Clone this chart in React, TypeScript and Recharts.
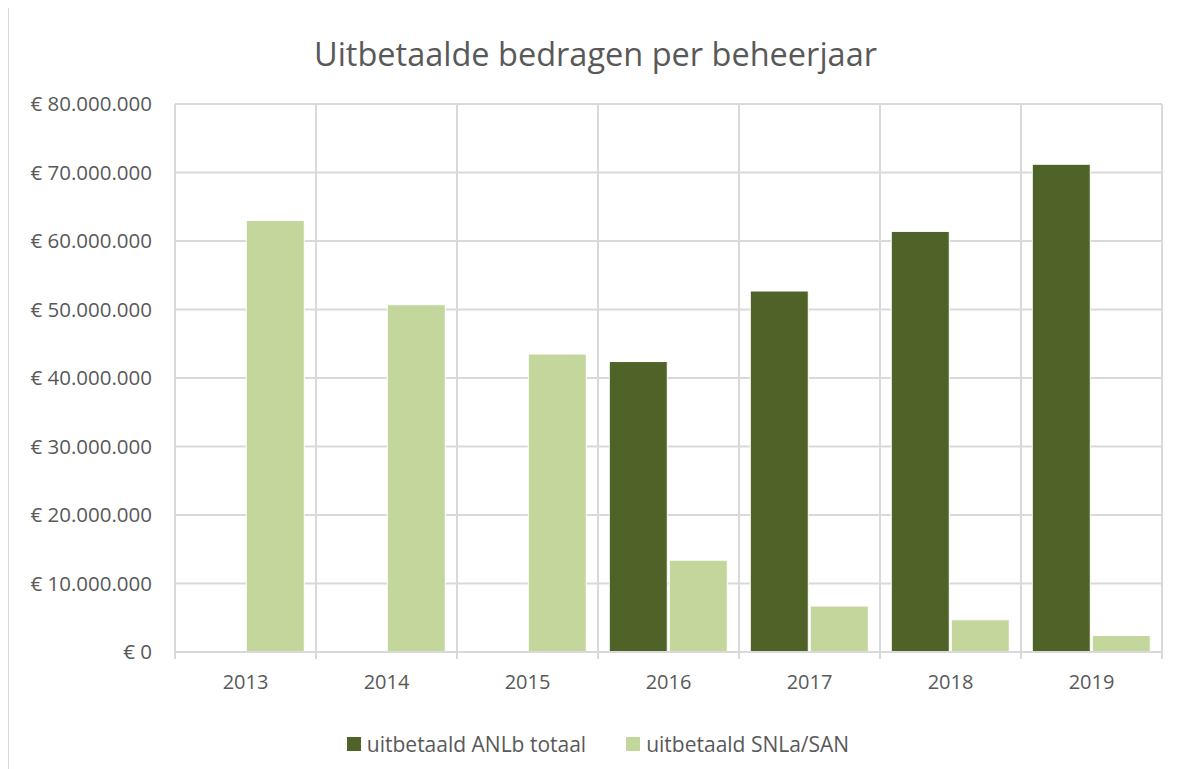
import { BarChart, Bar, XAxis, YAxis, CartesianGrid, Legend } from 'recharts'

const YEARS = ['2013', '2014', '2015', '2016', '2017', '2018', '2019']
const ANLB = [null, null, null, 42.4, 52.7, 61.4, 71.2]
const SNLA = [63.0, 50.7, 43.5, 13.4, 6.7, 4.7, 2.4]
const Y_TICKS = [0, 10, 20, 30, 40, 50, 60, 70, 80]

const SERIES = [
  { key: 'anlb', label: 'uitbetaald ANLb totaal', color: '#4f6228' },
  { key: 'snla', label: 'uitbetaald SNLa/SAN', color: '#c3d69b' },
]

const W = 1175
const H = 761
const M = { top: 96, right: 21, left: 0, bottom: 10 }
const Y_W = 167
const PLOT_W = W - M.left - M.right - Y_W
const BAND = PLOT_W / YEARS.length
const FONT = '"Open Sans", sans-serif'
const TEXT = '#595959'
const GRID = '#d9d9d9'

const data = YEARS.map((y, i) => ({
  year: y,
  anlb: ANLB[i] == null ? null : ANLB[i]! * 1e6,
  snla: SNLA[i] * 1e6,
}))

const euro = (v: number) =>
  v === 0 ? '€ 0' : '€ ' + Math.round(v).toString().replace(/\B(?=(\d{3})+(?!\d))/g, '.')

function XTick({ x, y, payload, index }: any) {
  const axisY = y - 23
  return (
    <g>
      <line x1={x - BAND / 2} x2={x - BAND / 2} y1={axisY} y2={axisY + 7} stroke={GRID} strokeWidth={2} />
      {index === YEARS.length - 1 && (
        <line x1={x + BAND / 2} x2={x + BAND / 2} y1={axisY} y2={axisY + 7} stroke={GRID} strokeWidth={2} />
      )}
      <text x={x} y={y} dy="0.71em" textAnchor="middle" fill={TEXT} fontSize={20} fontFamily={FONT}>
        {payload.value}
      </text>
    </g>
  )
}

function LegendBox() {
  return (
    <div
      style={{
        height: 57,
        boxSizing: 'border-box',
        paddingTop: 27,
        paddingLeft: 26,
        display: 'flex',
        justifyContent: 'center',
        alignItems: 'center',
        gap: 40,
        fontFamily: FONT,
        fontSize: 21,
        color: TEXT,
      }}
    >
      {SERIES.map((s) => (
        <div key={s.key} style={{ display: 'flex', alignItems: 'center', gap: 6, height: 30 }}>
          <span style={{ width: 14, height: 14, background: s.color, display: 'inline-block' }} />
          <span>{s.label}</span>
        </div>
      ))}
    </div>
  )
}

export default function App() {
  return (
    <div style={{ position: 'relative', width: W, height: H }}>
      <div
        style={{
          position: 'absolute',
          left: -1,
          top: -3,
          width: W + 10,
          height: H + 10,
          borderTop: `2px solid ${GRID}`,
          borderLeft: `2px solid ${GRID}`,
          pointerEvents: 'none',
        }}
      />
      <div
        style={{
          position: 'absolute',
          top: 23,
          left: 0,
          width: W,
          textAlign: 'center',
          fontFamily: FONT,
          fontSize: 32.5,
          color: TEXT,
        }}
      >
        Uitbetaalde bedragen per beheerjaar
      </div>
      <BarChart width={W} height={H} data={data} margin={M} barCategoryGap="8%" barGap={2}>
        <CartesianGrid
          stroke={GRID}
          strokeWidth={2}
          verticalCoordinatesGenerator={({ offset }: any) =>
            YEARS.map((_, i) => offset.left + i * (offset.width / YEARS.length)).concat(offset.left + offset.width)
          }
        />
        <XAxis
          dataKey="year"
          axisLine={{ stroke: GRID, strokeWidth: 2 }}
          tickLine={false}
          tickSize={0}
          tickMargin={23}
          height={50}
          tick={<XTick />}
          interval={0}
        />
        <YAxis
          width={Y_W}
          domain={[0, 80e6]}
          ticks={Y_TICKS.map((t) => t * 1e6)}
          tickFormatter={euro}
          axisLine={false}
          tickLine={false}
          tickSize={0}
          tickMargin={23}
          tick={{ fill: TEXT, fontSize: 20.5, fontFamily: FONT }}
        />
        {SERIES.map((s) => (
          <Bar key={s.key} dataKey={s.key} name={s.label} fill={s.color} stroke="#fff" strokeWidth={1} isAnimationActive={false} />
        ))}
        <Legend verticalAlign="bottom" content={<LegendBox />} />
      </BarChart>
    </div>
  )
}
